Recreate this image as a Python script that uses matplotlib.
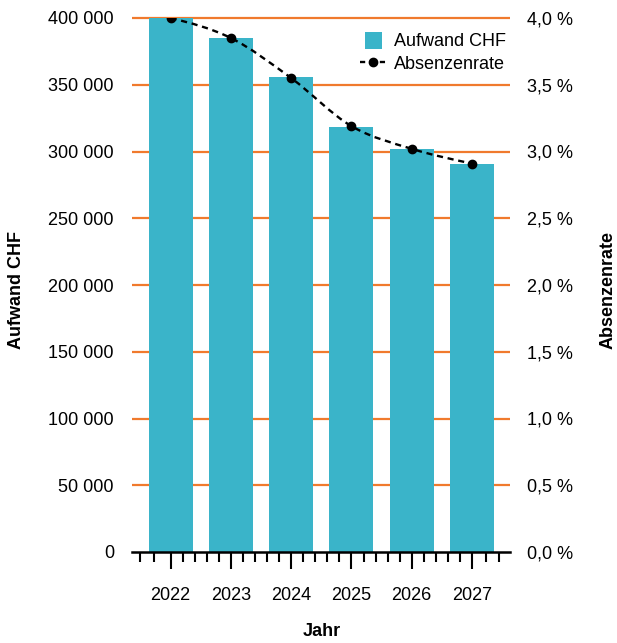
import matplotlib
matplotlib.use("Agg")
import matplotlib.pyplot as plt
from matplotlib.path import Path
from matplotlib.patches import PathPatch, Patch, Rectangle
from matplotlib.lines import Line2D
from matplotlib.legend_handler import HandlerPatch
from matplotlib.ticker import FuncFormatter, FixedLocator
import numpy as np

plt.rcParams['font.family'] = ['Liberation Sans', 'DejaVu Sans']

years = [2022, 2023, 2024, 2025, 2026, 2027]
aufwand = [400000, 385000, 356000, 318000, 302000, 291000]
absenzrate = [4.00, 3.85, 3.55, 3.19, 3.02, 2.91]

bar_color = '#3AB4C9'
grid_color = '#F07A2D'
fs = 13

fig = plt.figure(figsize=(6.17, 6.43), dpi=100)
L, R, B, T = 132/617, 510/617, 1-552/643, 1-18/643
ax = fig.add_axes([L, B, R-L, T-B])
ax2 = ax.twinx()

x0, x1 = 2021.36, 2027.63
ax.set_xlim(x0, x1)
ax.set_ylim(0, 400000)
ax2.set_ylim(0, 4.0)

# grid lines (behind bars)
yt = np.arange(50000, 400001, 50000)
ax.hlines(yt, x0, x1, colors=grid_color, linewidth=1.6, zorder=0, clip_on=False)

ax.bar(years, aufwand, width=0.73, color=bar_color, zorder=2, label='Aufwand CHF')

# smooth dashed line through the points (monotone cubic, bezier path)
xs = np.array(years, dtype=float)
ys = np.array(absenzrate, dtype=float)
n = len(xs)
h = np.diff(xs)
s = np.diff(ys) / h
t = np.zeros(n)
for i in range(1, n-1):
    p = (s[i-1]*h[i] + s[i]*h[i-1]) / (h[i-1] + h[i])
    t[i] = (np.sign(s[i-1]) + np.sign(s[i])) * min(abs(s[i-1]), abs(s[i]), 0.5*abs(p))
t[0] = (3*s[0] - t[1]) / 2
t[-1] = (3*s[-1] - t[-2]) / 2
verts = [(xs[0], ys[0])]
codes = [Path.MOVETO]
for i in range(n-1):
    dx = (xs[i+1] - xs[i]) / 3
    verts += [(xs[i] + dx, ys[i] + dx*t[i]),
              (xs[i+1] - dx, ys[i+1] - dx*t[i+1]),
              (xs[i+1], ys[i+1])]
    codes += [Path.CURVE4]*3
dash = (0, (2.6, 2.0))
patch = PathPatch(Path(verts, codes), fill=False, edgecolor='black',
                  linewidth=1.7, linestyle=dash, zorder=3)
ax2.add_patch(patch)
ax2.plot(years, absenzrate, linestyle='none', marker='o', markersize=6,
         color='black', zorder=4)

# axes styling
for a in (ax, ax2):
    for sp in ('top', 'left', 'right'):
        a.spines[sp].set_visible(False)
ax2.spines['bottom'].set_visible(False)
ax.spines['bottom'].set_linewidth(1.8)
ax.spines['bottom'].set_zorder(5)

ax.set_yticks(np.arange(0, 400001, 50000))
ax.yaxis.set_major_formatter(FuncFormatter(lambda v, p: f"{int(v):,}".replace(',', ' ')))
ax.tick_params(axis='y', length=0, pad=13, labelsize=fs)

ax2.set_yticks(np.arange(0, 4.01, 0.5))
ax2.yaxis.set_major_formatter(FuncFormatter(lambda v, p: f"{v:.1f} %".replace('.', ',')))
ax2.tick_params(axis='y', length=0, pad=12, labelsize=fs)

minor_ticks = [2021.5, 2021.73] + [y + d for y in years[:-1] for d in (0.2, 0.4, 0.6, 0.8)] + [2027.23, 2027.45]
ax.set_xticks(years)
ax.xaxis.set_minor_locator(FixedLocator(minor_ticks))
ax.tick_params(axis='x', which='major', length=12, width=1.5, pad=13, labelsize=fs)
ax.tick_params(axis='x', which='minor', length=7, width=1.5)

fig.text(17/617, 1-290/643, 'Aufwand CHF', rotation=90, ha='center', va='center',
         fontsize=fs, fontweight='bold')
fig.text(608/617, 1-290/643, 'Absenzenrate', rotation=90, ha='center', va='center',
         fontsize=fs, fontweight='bold')
fig.text(322/617, 1-632/643, 'Jahr', ha='center', va='center',
         fontsize=fs, fontweight='bold')


def square_patch(legend, orig_handle, xdescent, ydescent, width, height, fontsize):
    side = height * 1.35
    return Rectangle((width/2 - side/2 - xdescent, height/2 - side/2 - ydescent), side, side)


handles = [Patch(facecolor=bar_color, edgecolor='none'),
           Line2D([], [], color='black', linestyle=(0, (2.2, 2.0)), linewidth=1.7,
                  marker='o', markersize=6)]
leg = ax2.legend(handles, ['Aufwand CHF', 'Absenzenrate'], loc='upper right',
                 bbox_to_anchor=(1.0, 0.978), frameon=False, fontsize=fs,
                 handlelength=1.45, handletextpad=0.45, labelspacing=0.3,
                 borderaxespad=0.0, borderpad=0.2,
                 handler_map={Patch: HandlerPatch(patch_func=square_patch)})

fig.savefig('out.png', dpi=100)
